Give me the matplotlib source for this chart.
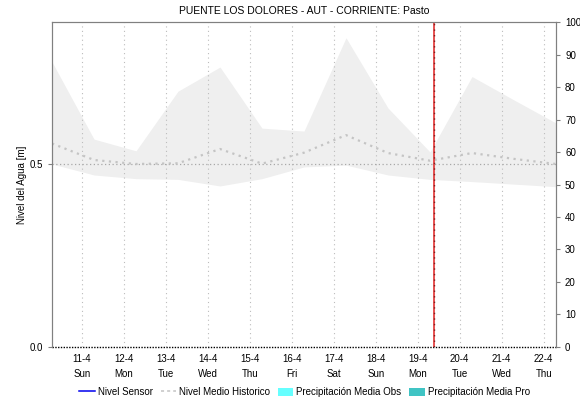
import numpy as np
import pandas as pd
import matplotlib
matplotlib.use("Agg")
import matplotlib.pyplot as plt
import matplotlib.dates as mdates
from matplotlib.lines import Line2D
from matplotlib.patches import Patch

plt.rcParams.update({"font.family": ["Liberation Sans", "DejaVu Sans"], "font.size": 7})

# data points every day at 07:00, from 10-4 to 22-4
times = pd.date_range("2021-04-10 07:00", periods=13, freq="D")
band_max = [0.779, 0.568, 0.536, 0.699, 0.765, 0.598, 0.590, 0.845, 0.653, 0.533, 0.739, 0.675, 0.612]
band_min = [0.500, 0.470, 0.460, 0.458, 0.440, 0.460, 0.492, 0.497, 0.470, 0.458, 0.452, 0.445, 0.438]
nivel_medio = [0.556, 0.511, 0.500, 0.502, 0.541, 0.501, 0.531, 0.579, 0.530, 0.509, 0.530, 0.514, 0.500]
precip_obs = [0] * 13
precip_pro = [0] * 13
now_time = pd.Timestamp("2021-04-19 09:30")

day_ticks = pd.date_range("2021-04-11", "2021-04-22", freq="D")
day_labels = [f"{d.day}-{d.month}\n{d.strftime('%a')}" for d in day_ticks]

fig = plt.figure(figsize=(5.8, 4.01), dpi=100)
ax = fig.add_axes([0.0897, 0.1347, 0.8689, 0.8104])
ax2 = ax.twinx()

ax.fill_between(times, band_min, band_max, color="#efefef", lw=0, zorder=1)
ax.plot(times, nivel_medio, color="#c4c4c4", ls=(0, (1, 2)), lw=1.6, zorder=3)
ax2.bar(times, precip_obs, width=0.4, color="#66ffff")
ax2.bar(times, precip_pro, width=0.4, color="#40c4c4")

ax.axvline(now_time, color="#e02020", lw=1.1, zorder=5)
ax.axvline(now_time, color="#802020", lw=1.0, ls=(0, (1, 3)), zorder=6)

ax.set_xlim(pd.Timestamp("2021-04-10 07:00"), pd.Timestamp("2021-04-22 07:00"))
ax.set_ylim(0, 0.888)
ax2.set_ylim(0, 100)

ax.set_xticks(day_ticks)
ax.set_xticklabels(day_labels, linespacing=1.6)
ax.tick_params(axis="x", length=0, pad=5, labelsize=7)
ax.grid(axis="x", color="#bcbcbc", ls=(0, (1, 3)), lw=0.8)

ax.set_yticks([0.0, 0.5])
ax.set_yticklabels(["0.0", "0.5"])
ax.tick_params(axis="y", length=3, color="#808080", labelsize=7)
ax.axhline(0.5, color="#a8a8a8", ls=(0, (1, 2)), lw=0.9, zorder=2)
ax.axhline(0.0, color="black", ls=(0, (1, 1)), lw=1.0, zorder=4, clip_on=False)
ax.set_ylabel("Nivel del Agua [m]", fontsize=7, labelpad=2)

ax2.set_yticks(range(0, 101, 10))
ax2.tick_params(axis="y", length=3, color="#808080", labelsize=7)

for a in (ax, ax2):
    for s in ("left", "right", "top"):
        a.spines[s].set_color("#808080")
    a.spines["bottom"].set_visible(False)

ax.set_title("PUENTE LOS DOLORES - AUT - CORRIENTE: Pasto", fontsize=7.5, pad=6)

handles = [
    Line2D([], [], color="#0000ee", lw=1.1),
    Line2D([], [], color="#c4c4c4", ls=(0, (2, 2)), lw=1.1),
    Patch(facecolor="#66ffff"),
    Patch(facecolor="#40c4c4"),
]
labels = ["Nivel Sensor", "Nivel Medio Historico", "Precipitación Media Obs", "Precipitación Media Pro"]
fig.legend(handles, labels, loc="center", bbox_to_anchor=(0.525, 0.022), ncol=4, frameon=False,
           fontsize=7, handlelength=1.6, handletextpad=0.3, columnspacing=0.8,
           handleheight=0.9)

fig.savefig("out.png", dpi=100)
